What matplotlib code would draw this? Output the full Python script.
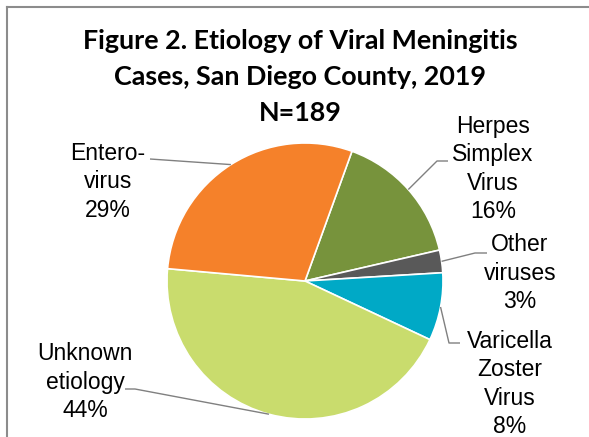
import numpy as np
import matplotlib
matplotlib.use('Agg')
import matplotlib.pyplot as plt
from matplotlib.lines import Line2D

# data (N=189)
categories = ["Herpes\nSimplex\nVirus", "Other\nviruses", "Varicella\nZoster\nVirus",
              "Unknown\netiology", "Entero-\nvirus"]
counts = [30, 5, 15, 84, 55]
pct_labels = ["16%", "3%", "8%", "44%", "29%"]
colors = ['#77933c', '#595959', '#00a9c6', '#c9dc6d', '#f5812a']

W, H = 589, 437
fig = plt.figure(figsize=(W / 100, H / 100), dpi=100)
ax = fig.add_axes([0, 0, 1, 1])

cx, cy, r = 305, H - 281, 138
start = 70.1
wedges, _ = ax.pie(counts, colors=colors, startangle=start, counterclock=False,
                   center=(cx, cy), radius=r, frame=True,
                   wedgeprops=dict(edgecolor='white', linewidth=1.2))
ax.set_xlim(0, W)
ax.set_ylim(0, H)
ax.set_aspect('equal')
ax.axis('off')

# label layout: text centre, elbow, end of horizontal stub (image pixels, y down)
layout = [
    dict(text=(493, 169), elbow=(437, 161), end=(448, 161)),
    dict(text=(520, 273), elbow=(475, 253), end=(487, 253)),
    dict(text=(510, 384), elbow=(449, 343), end=(460, 343)),
    dict(text=(85, 382), elbow=(135, 389), end=(125, 389)),
    dict(text=(108, 182), elbow=None, end=(150, 159)),
]

for w, cat, pct, lay in zip(wedges, categories, pct_labels, layout):
    mid = np.deg2rad((w.theta1 + w.theta2) / 2)
    ax_pt = (cx + r * np.cos(mid), cy + r * np.sin(mid))
    xs, ys = [ax_pt[0]], [ax_pt[1]]
    if lay['elbow'] is not None:
        xs.append(lay['elbow'][0]); ys.append(H - lay['elbow'][1])
    xs.append(lay['end'][0]); ys.append(H - lay['end'][1])
    ax.plot(xs, ys, color='#808080', lw=1.0, solid_capstyle='butt')
    ax.text(lay['text'][0], H - lay['text'][1], cat + "\n" + pct, ha='center', va='center',
            fontsize=16.5, family='Liberation Sans', linespacing=1.30, color='black')

ax.text(300, H - 77, "Figure 2. Etiology of Viral Meningitis\nCases, San Diego County, 2019\nN=189",
        ha='center', va='center', fontsize=19.4, family='Lato', fontweight='bold',
        linespacing=1.58, color='black')

# chart border (top and left edges visible)
fig.add_artist(Line2D([7 / W, 1], [1 - 7 / H, 1 - 7 / H], color='#8c8c8c', lw=1.5))
fig.add_artist(Line2D([7 / W, 7 / W], [0, 1 - 7 / H], color='#8c8c8c', lw=1.5))

fig.savefig('out.png', dpi=100)
